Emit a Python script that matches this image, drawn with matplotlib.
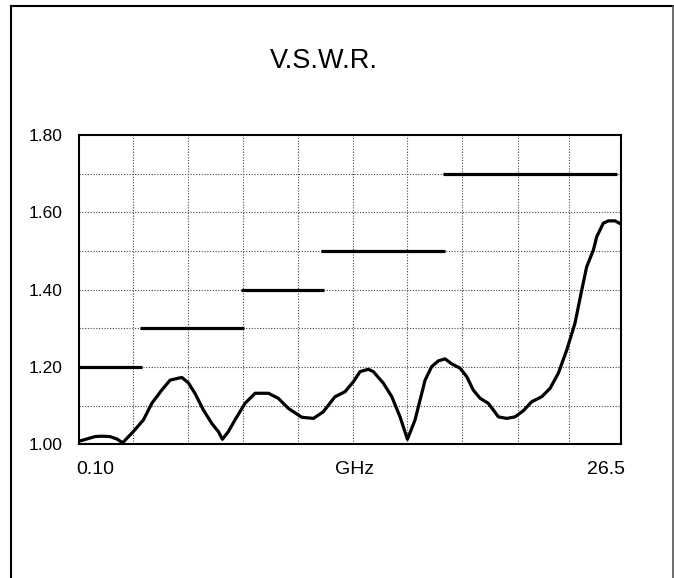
import matplotlib
matplotlib.use("Agg")
import matplotlib.pyplot as plt
from matplotlib.lines import Line2D

plt.rcParams['font.family'] = ['Liberation Sans', 'DejaVu Sans']

# Measured VSWR curve (GHz, VSWR)
freq = [0.10, 0.32, 0.89, 1.22, 1.62, 1.95, 2.24, 2.76, 3.25, 3.66, 4.14, 4.55, 4.79,
        5.12, 5.44, 5.76, 6.17, 6.58, 6.90, 7.10, 7.39, 7.71, 8.20, 8.69, 9.34, 9.82,
        10.31, 10.96, 11.53, 12.01, 12.58, 13.07, 13.48, 13.80, 14.21, 14.45, 14.94,
        15.35, 15.75, 16.11, 16.48, 16.97, 17.29, 17.62, 17.94, 18.27, 18.67, 19.00,
        19.32, 19.65, 20.05, 20.29, 20.54, 20.95, 21.35, 21.76, 22.16, 22.65, 23.06,
        23.46, 23.87, 24.27, 24.60, 24.84, 25.17, 25.33, 25.65, 25.90, 26.22, 26.50]
vswr = [1.008, 1.011, 1.020, 1.021, 1.020, 1.014, 1.004, 1.033, 1.063, 1.106, 1.140,
        1.166, 1.169, 1.173, 1.159, 1.132, 1.089, 1.054, 1.033, 1.013, 1.033, 1.063,
        1.106, 1.132, 1.132, 1.119, 1.093, 1.070, 1.067, 1.084, 1.123, 1.136, 1.162,
        1.188, 1.194, 1.188, 1.158, 1.123, 1.071, 1.013, 1.063, 1.166, 1.201, 1.216,
        1.221, 1.208, 1.197, 1.175, 1.140, 1.119, 1.106, 1.089, 1.071, 1.067, 1.071,
        1.087, 1.110, 1.123, 1.145, 1.184, 1.244, 1.313, 1.399, 1.459, 1.503, 1.537,
        1.572, 1.578, 1.578, 1.570]

# Specification limits: (start GHz, end GHz, VSWR)
limit_start = [0.10, 3.10, 8.01, 11.90, 17.86]
limit_end = [3.20, 8.15, 12.03, 17.94, 26.31]
limit_value = [1.20, 1.30, 1.40, 1.50, 1.70]

x_grid = [2.76, 5.41, 8.12, 10.77, 13.48, 16.11, 18.78, 21.51, 24.00]
y_grid = [1.10, 1.20, 1.30, 1.40, 1.50, 1.60, 1.70]
y_ticks = [1.00, 1.20, 1.40, 1.60, 1.80]
y_ticklabels = ["1.00", "1.20", "1.40", "1.60", "1.80"]
x_labels = ["0.10", "GHz", "26.5"]
title = "V.S.W.R."

fig = plt.figure(figsize=(6.74, 5.78), dpi=100)
fig.patch.set_facecolor('white')

# Outer frame (left, top, right)
fig.add_artist(Line2D([10.5/674, 10.5/674], [0, 1 - 5.5/578], transform=fig.transFigure,
                      color='black', lw=1.5))
fig.add_artist(Line2D([10.5/674, 673/674], [1 - 5.5/578, 1 - 5.5/578], transform=fig.transFigure,
                      color='black', lw=1.5))
fig.add_artist(Line2D([673/674, 673/674], [0, 1 - 5.5/578], transform=fig.transFigure,
                      color='#555555', lw=1.2))

ax = fig.add_axes([0.1168, 0.2313, 0.8042, 0.5351])
ax.set_xlim(0.10, 26.5)
ax.set_ylim(1.00, 1.80)

for xg in x_grid:
    ax.axvline(xg, color='#444444', lw=0.8, ls=(0, (1, 1.5)), zorder=1)
for yg in y_grid:
    ax.axhline(yg, color='#444444', lw=0.8, ls=(0, (1, 1.5)), zorder=1)

for s, e, v in zip(limit_start, limit_end, limit_value):
    ax.plot([s, e], [v, v], color='black', lw=2.3, solid_capstyle='butt', zorder=3)

ax.plot(freq, vswr, color='black', lw=2.3, zorder=4, solid_joinstyle='round')

for sp in ax.spines.values():
    sp.set_linewidth(1.5)
    sp.set_color('black')

ax.set_yticks(y_ticks)
ax.set_yticklabels(y_ticklabels, fontsize=12.5)
ax.tick_params(axis='y', length=0, pad=12)
ax.set_xticks([])

ax.text(-0.004, -0.083, x_labels[0], transform=ax.transAxes, ha='left', va='center', fontsize=14)
ax.text(0.508, -0.083, x_labels[1], transform=ax.transAxes, ha='center', va='center', fontsize=14)
ax.text(1.008, -0.083, x_labels[2], transform=ax.transAxes, ha='right', va='center', fontsize=14)

fig.text(324/674, 1 - 61/578, title, ha='center', va='center', fontsize=19.5)

fig.savefig("out.png", dpi=100)
